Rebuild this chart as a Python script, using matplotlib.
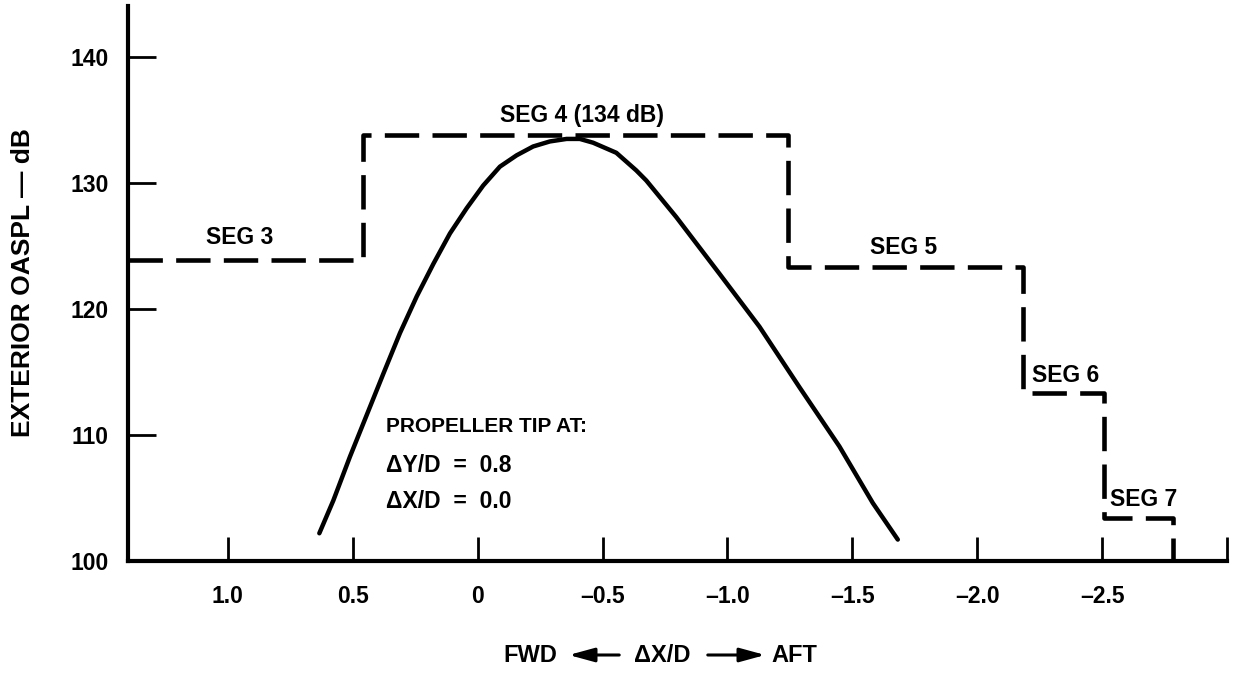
import matplotlib
matplotlib.use("Agg")
import matplotlib.pyplot as plt
import numpy as np

plt.rcParams['font.family'] = ['Liberation Sans', 'DejaVu Sans']
plt.rcParams['font.weight'] = 'bold'

# ---- data ----
# measured curve (propeller tip at dY/D=0.8, dX/D=0.0)
curve_x = [0.634, 0.578, 0.511, 0.444, 0.377, 0.311, 0.244, 0.177, 0.111, 0.044,
           -0.022, -0.089, -0.156, -0.222, -0.289, -0.356, -0.409, -0.462, -0.555,
           -0.635, -0.675, -0.795, -0.968, -1.128, -1.288, -1.448, -1.582, -1.682]
curve_y = [102.2, 104.8, 108.3, 111.6, 114.9, 118.1, 121.0, 123.6, 126.0, 128.0,
           129.8, 131.3, 132.2, 132.9, 133.3, 133.5, 133.5, 133.2, 132.4,
           131.0, 130.2, 127.3, 122.8, 118.6, 113.8, 109.1, 104.6, 101.7]

# fuselage segment levels (dashed staircase)
seg_edges = [1.4, 0.46, -1.244, -2.184, -2.508, -2.784]
seg_levels = [123.9, 133.8, 123.3, 113.3, 103.4]
seg_names = ["SEG 3", "SEG 4 (134 dB)", "SEG 5", "SEG 6", "SEG 7"]

xticks = [1.0, 0.5, 0.0, -0.5, -1.0, -1.5, -2.0, -2.5, -3.0]
xtick_labels = ["1.0", "0.5", "0", "\u20130.5", "\u20131.0", "\u20131.5", "\u20132.0", "\u20132.5", ""]
yticks = [100, 110, 120, 130, 140]

# ---- figure ----
W, H = 1237, 673
fig = plt.figure(figsize=(W / 100, H / 100), dpi=100)
left_px, right_px, bottom_px, top_px = 128, 1227, 561, 6
ax = fig.add_axes([left_px / W, (H - bottom_px) / H,
                   (right_px - left_px) / W, (bottom_px - top_px) / H])
ax.set_xlim(1.4, -3.0)
ax.set_ylim(100, 144.05)

# staircase
sx, sy = [], []
for i, lvl in enumerate(seg_levels):
    sx += [seg_edges[i], seg_edges[i + 1]]
    sy += [lvl, lvl]
sx.append(seg_edges[-1])
sy.append(100)
ax.plot(sx, sy, color='black', lw=3.3, linestyle=(0, (7.5, 2.9)),
        solid_capstyle='butt', dash_capstyle='butt', clip_on=False)

# curve
ax.plot(curve_x, curve_y, color='black', lw=3.2, solid_capstyle='round',
        solid_joinstyle='round')

# spines and ticks
for s in ['top', 'right']:
    ax.spines[s].set_visible(False)
for s in ['left', 'bottom']:
    ax.spines[s].set_linewidth(3.0)
ax.set_xticks(xticks)
ax.set_xticklabels(xtick_labels)
ax.set_yticks(yticks)
ax.tick_params(axis='x', direction='in', length=17, width=2.0, pad=17, labelsize=16.5)
ax.tick_params(axis='y', direction='in', length=20, width=2.0, pad=14, labelsize=16.5)
for lab in ax.get_xticklabels() + ax.get_yticklabels():
    lab.set_fontweight('bold')

def px2data(px, py):
    x = 1.4 - (px - left_px) / (right_px - left_px) * 4.4
    y = 100 + (bottom_px - py) / (bottom_px - top_px) * 44.05
    return x, y

# segment labels
seg_label_px = [(240, 238), (582, 115), (904, 248), (1066, 375), (1144, 499)]
for name, (px, py) in zip(seg_names, seg_label_px):
    x, y = px2data(px, py)
    ax.text(x, y, name, ha='center', va='center', fontsize=16.5, fontweight='bold')

# propeller tip note
for txt, py, fs in [("PROPELLER TIP AT:", 427, 15), ("\u0394Y/D  =  0.8", 466, 16.5),
                    ("\u0394X/D  =  0.0", 502, 16.5)]:
    x, y = px2data(386, py)
    ax.text(x, y, txt, ha='left', va='center', fontsize=fs, fontweight='bold')

# y label
fig.text(23 / W, 1 - 283 / H, "EXTERIOR OASPL \u2014 dB", rotation=90,
         ha='center', va='center', fontsize=19, fontweight='bold')

# x label with arrows
yl = 1 - 655 / H
fig.text(530 / W, yl, "FWD", ha='center', va='center', fontsize=17, fontweight='bold')
fig.text(662 / W, yl, "\u0394X/D", ha='center', va='center', fontsize=17, fontweight='bold')
fig.text(794 / W, yl, "AFT", ha='center', va='center', fontsize=17, fontweight='bold')
fig.patches.append(matplotlib.patches.FancyArrowPatch(
    (622 / W, yl), (566 / W, yl), transform=fig.transFigure,
    arrowstyle='-|>,head_length=1.1,head_width=0.3', mutation_scale=14,
    color='black', lw=2.2))
fig.patches.append(matplotlib.patches.FancyArrowPatch(
    (705 / W, yl), (768 / W, yl), transform=fig.transFigure,
    arrowstyle='-|>,head_length=1.1,head_width=0.3', mutation_scale=14,
    color='black', lw=2.2))

fig.savefig("out.png", dpi=100)
